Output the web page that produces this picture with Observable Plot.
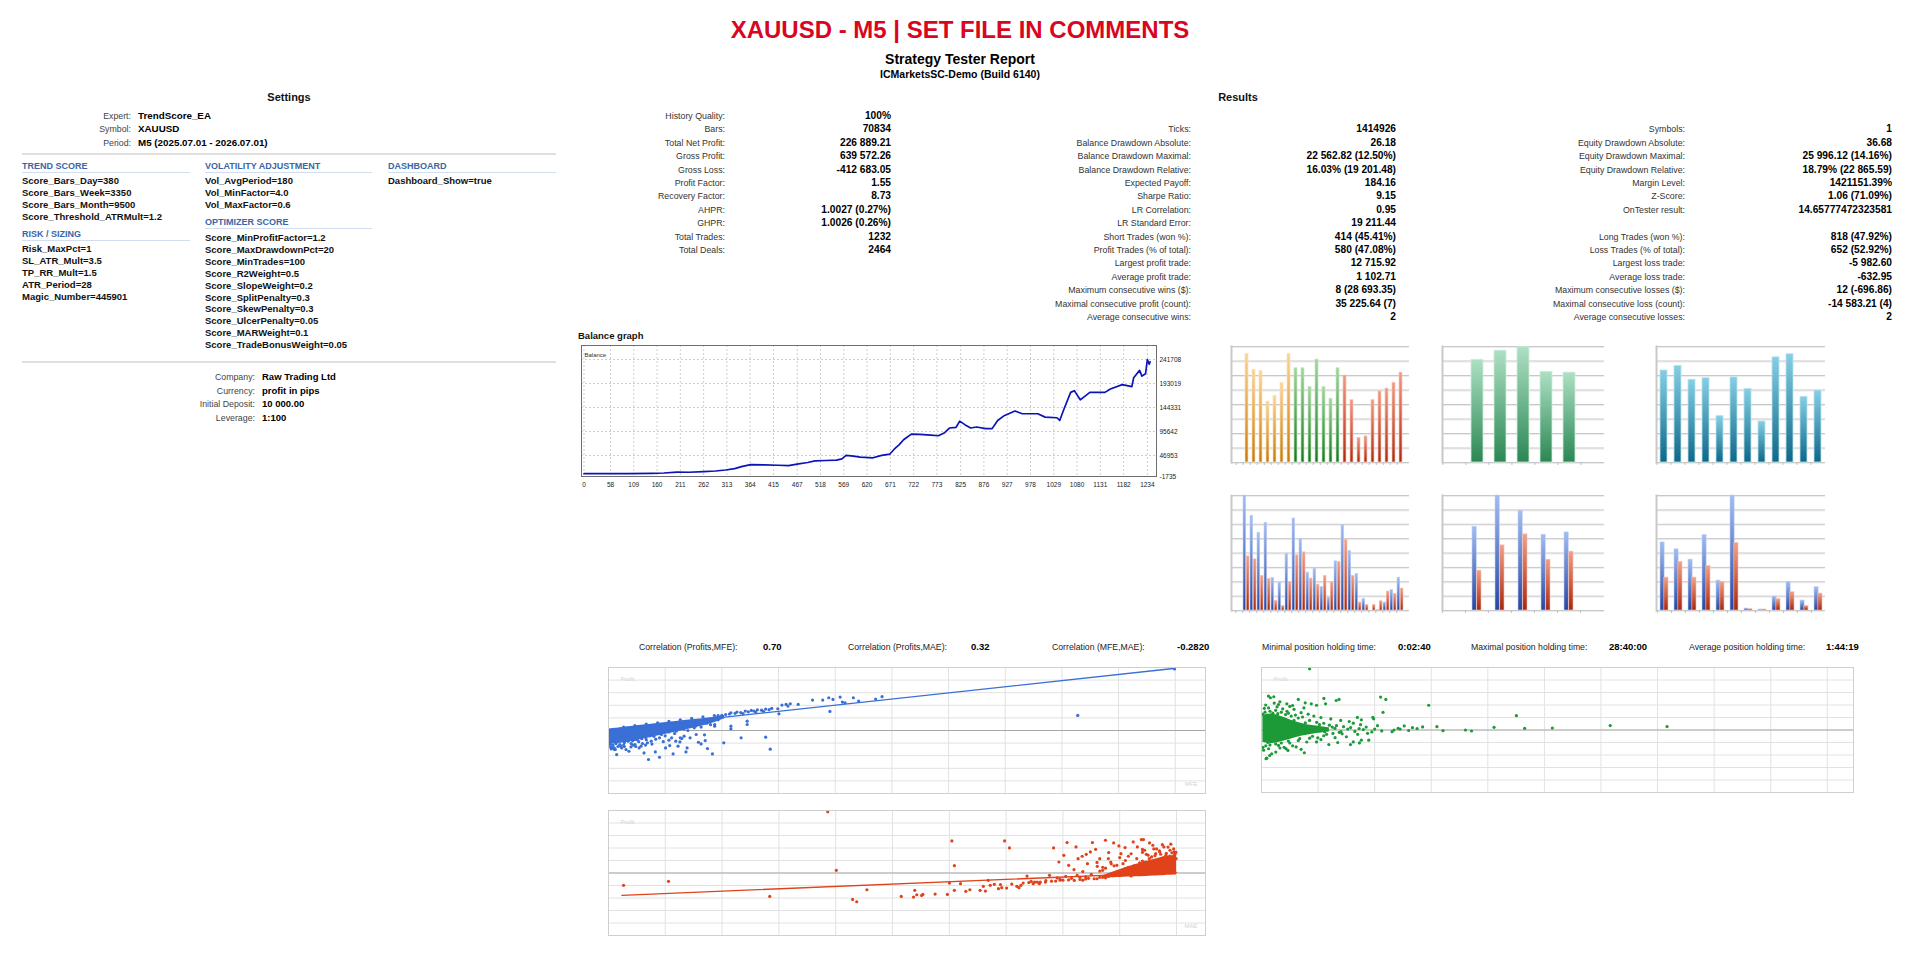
<!DOCTYPE html>
<html><head><meta charset="utf-8">
<script src="https://cdn.jsdelivr.net/npm/d3@7"></script>
<script src="https://cdn.jsdelivr.net/npm/@observablehq/plot@0.6"></script>
<style>
html,body{margin:0;padding:0;background:#fff;}
body{width:1920px;height:978px;position:relative;overflow:hidden;font-family:"Liberation Sans",Arial,Helvetica,sans-serif;}
.t{position:absolute;white-space:nowrap;line-height:1;}
.ln{position:absolute;}
.pl{position:absolute;}
.pl svg{display:block;overflow:visible;}
</style></head>
<body>
<svg width="0" height="0" style="position:absolute">
<defs>
<linearGradient id="gOrange" x1="0" y1="0" x2="0" y2="1"><stop offset="0" stop-color="#fcd59a"/><stop offset="1" stop-color="#c97806"/></linearGradient>
<linearGradient id="gGreen" x1="0" y1="0" x2="0" y2="1"><stop offset="0" stop-color="#a3d69c"/><stop offset="1" stop-color="#147a1a"/></linearGradient>
<linearGradient id="gRed" x1="0" y1="0" x2="0" y2="1"><stop offset="0" stop-color="#f19a86"/><stop offset="1" stop-color="#b0280e"/></linearGradient>
<linearGradient id="gMint" x1="0" y1="0" x2="0" y2="1"><stop offset="0" stop-color="#aee0c4"/><stop offset="1" stop-color="#2a8753"/></linearGradient>
<linearGradient id="gTeal" x1="0" y1="0" x2="0" y2="1"><stop offset="0" stop-color="#86cfe4"/><stop offset="1" stop-color="#0d6888"/></linearGradient>
<linearGradient id="gBlue" x1="0" y1="0" x2="0" y2="1"><stop offset="0" stop-color="#a2bdf2"/><stop offset="1" stop-color="#2646a3"/></linearGradient>
<linearGradient id="gRed2" x1="0" y1="0" x2="0" y2="1"><stop offset="0" stop-color="#f3a088"/><stop offset="1" stop-color="#a9270e"/></linearGradient>
</defs></svg>
<script>
// ---------------- DATA ----------------
const titleText = "XAUUSD - M5 | SET FILE IN COMMENTS";
const reportTitle = "Strategy Tester Report";
const reportServer = "ICMarketsSC-Demo (Build 6140)";

const settingsLabels = ["Expert:", "Symbol:", "Period:"];
const settingsValues = ["TrendScore_EA", "XAUUSD", "M5 (2025.07.01 - 2026.07.01)"];
const trendScoreItems = ["Score_Bars_Day=380", "Score_Bars_Week=3350", "Score_Bars_Month=9500", "Score_Threshold_ATRMult=1.2"];
const riskSizingItems = ["Risk_MaxPct=1", "SL_ATR_Mult=3.5", "TP_RR_Mult=1.5", "ATR_Period=28", "Magic_Number=445901"];
const volatilityItems = ["Vol_AvgPeriod=180", "Vol_MinFactor=4.0", "Vol_MaxFactor=0.6"];
const optimizerItems = ["Score_MinProfitFactor=1.2", "Score_MaxDrawdownPct=20", "Score_MinTrades=100", "Score_R2Weight=0.5", "Score_SlopeWeight=0.2", "Score_SplitPenalty=0.3", "Score_SkewPenalty=0.3", "Score_UlcerPenalty=0.05", "Score_MARWeight=0.1", "Score_TradeBonusWeight=0.05"];
const dashboardItems = ["Dashboard_Show=true"];
const accountLabels = ["Company:", "Currency:", "Initial Deposit:", "Leverage:"];
const accountValues = ["Raw Trading Ltd", "profit in pips", "10 000.00", "1:100"];

const res1Labels = ["History Quality:", "Bars:", "Total Net Profit:", "Gross Profit:", "Gross Loss:", "Profit Factor:", "Recovery Factor:", "AHPR:", "GHPR:", "Total Trades:", "Total Deals:"];
const res1Values = ["100%", "70834", "226 889.21", "639 572.26", "-412 683.05", "1.55", "8.73", "1.0027 (0.27%)", "1.0026 (0.26%)", "1232", "2464"];
const res2Labels = ["Ticks:", "Balance Drawdown Absolute:", "Balance Drawdown Maximal:", "Balance Drawdown Relative:", "Expected Payoff:", "Sharpe Ratio:", "LR Correlation:", "LR Standard Error:", "Short Trades (won %):", "Profit Trades (% of total):", "Largest profit trade:", "Average profit trade:", "Maximum consecutive wins ($):", "Maximal consecutive profit (count):", "Average consecutive wins:"];
const res2Values = ["1414926", "26.18", "22 562.82 (12.50%)", "16.03% (19 201.48)", "184.16", "9.15", "0.95", "19 211.44", "414 (45.41%)", "580 (47.08%)", "12 715.92", "1 102.71", "8 (28 693.35)", "35 225.64 (7)", "2"];
const res3Labels = ["Symbols:", "Equity Drawdown Absolute:", "Equity Drawdown Maximal:", "Equity Drawdown Relative:", "Margin Level:", "Z-Score:", "OnTester result:", "", "Long Trades (won %):", "Loss Trades (% of total):", "Largest loss trade:", "Average loss trade:", "Maximum consecutive losses ($):", "Maximal consecutive loss (count):", "Average consecutive losses:"];
const res3Values = ["1", "36.68", "25 996.12 (14.16%)", "18.79% (22 865.59)", "1421151.39%", "1.06 (71.09%)", "14.65777472323581", "", "818 (47.92%)", "652 (52.92%)", "-5 982.60", "-632.95", "12 (-696.86)", "-14 583.21 (4)", "2"];

const corrLabels = ["Correlation (Profits,MFE):", "Correlation (Profits,MAE):", "Correlation (MFE,MAE):"];
const corrValues = ["0.70", "0.32", "-0.2820"];
const holdLabels = ["Minimal position holding time:", "Maximal position holding time:", "Average position holding time:"];
const holdValues = ["0:02:40", "28:40:00", "1:44:19"];

// balance graph
const balanceXTicks = [0, 58, 109, 160, 211, 262, 313, 364, 415, 467, 518, 569, 620, 671, 722, 773, 825, 876, 927, 978, 1029, 1080, 1131, 1182, 1234];
const balanceYTicks = [241708, 193019, 144331, 95642, 46953, -1735];
const balanceTrade = [0,36,95,150,175,204,230,262,288,310,330,345,365,395,425,448,470,490,506,530,553,565,574,590,605,633,652,670,680,690,700,717,735,760,776,790,801,815,823,835,847,860,880,894,906,919,944,960,994,1010,1036,1042,1052,1066,1074,1087,1108,1141,1153,1179,1200,1204,1217,1222,1230,1234,1238,1240];
const balanceValue = [10000,10300,10000,10700,11400,13400,13000,14100,15500,17500,20300,24300,28500,27900,27200,26500,30000,32700,36100,36800,37500,40200,47100,45800,43700,42300,47100,49900,60200,68400,78800,90400,89700,88300,87000,93200,102800,104200,116600,109000,102800,104800,101500,101500,118000,126900,137200,131700,131700,124800,123500,118000,142700,175000,178500,159900,175000,175000,181900,190800,186700,204600,219700,208000,212800,241700,232000,236889];

// histograms
const hourSlots = [0,1,2,3,4,5,6,7,8,9,10,11,12,13,14,15,16,17,18,19,20,21,22,23];
const hourEntries = [0,75,64,63,42,46,55,75,65,65,52,71,52,44,65,60,43,17,18,43,49,51,55,62];
const sessionStarts = {europe: 8, america: 15};
const weekdaySlots = ["Sun", "Mon", "Tue", "Wed", "Thu", "Fri", "Sat"];
const weekdayEntries = [0, 248, 270, 278, 219, 217, 0];
const monthSlots = ["Jan", "Feb", "Mar", "Apr", "May", "Jun", "Jul", "Aug", "Sep", "Oct", "Nov", "Dec"];
const monthEntries = [119, 125, 107, 109, 60, 110, 95, 53, 136, 140, 85, 93];
const hourProfit = [0,68270,56230,46170,52090,19340,16570,33740,54650,42620,22490,24860,14010,7690,29200,50710,35320,21700,6910,0,390,4740,12230,19530];
const hourLoss = [0,32160,30380,20520,18740,5720,2760,16770,32750,34530,18940,15390,20520,16770,28810,41830,20520,4740,3350,3350,5520,11250,9870,13020];
const weekdayProfit = [0, 118420, 162590, 140970, 107140, 110430, 0];
const weekdayLoss = [0, 56390, 92100, 107610, 71900, 83170, 0];
const monthProfit = [90920, 81600, 67860, 100670, 39920, 153450, 2660, 1330, 18630, 38140, 13300, 31050];
const monthLoss = [43910, 64750, 43910, 59430, 38140, 90030, 1770, 1330, 15080, 24390, 6210, 22620];

// scatter charts
const profitTicks = [-13000, -10400, -7800, -5200, -2600, 0, 2600, 5200, 7800, 10400, 13000];
const mfeTicks = [0, 1500, 3000, 4500, 6000, 7500, 9000, 10500, 12000, 13500, 15000];
const holdTicks = [0, 4, 8, 12, 16, 20, 24, 28, 32, 36, 40];
const maeTicks = [-10000, -9000, -8000, -7000, -6000, -5000, -4000, -3000, -2000, -1000, 0];

const mfePoints = [[3240,3660],[3400,3800],[3620,4000],[3780,4140],[3940,4280],[4160,4420],[4320,4550],[4480,4490],[4590,5240],[4700,5380],[4750,5040],[4810,5520],[5020,5380],[5400,6280],[5670,6280],[5830,6760],[5940,6420],[6130,6900],[6190,5870],[6260,5730],[6480,6760],[6620,6070],[7070,6490],[7240,6970],[5860,3930],[4510,3450],[12420,3110],[14980,12716],
[3100,3300],[3000,3150],[2900,3050],[3200,3400],[3350,3550],[3500,3700],[3700,3850],[3850,4000],[4050,4200],[4250,4300],[3560,3500],[3900,3800],[4100,3950],
[76,-3800],[216,-4970],[464,-3930],[594,-3380],[702,-2900],[810,-3590],[940,-4620],[1058,-5983],[1240,-4420],[1350,-5520],[1510,-3590],[1620,-3110],[1710,-4830],[1780,-2210],[1890,-2350],[1940,-1660],[2050,-4420],[2080,-3590],[2160,-1520],[2270,550],[2380,-2420],[2450,-2760],[2540,-900],[2560,-2070],[2620,-3730],[2750,-4830],[2810,900],[2810,1240],[3050,-2550],[3240,350],[3510,-1520],[3670,1930],[3670,1240],[4160,-1380],[4280,-3860],[3240,900],[1670,-1520],[1130,-2210],[1350,-1520],[700,-1860],[320,-3240],[160,-3930],[540,-4280],[860,-3240],[1030,-2550],[1840,-3240],[2320,-830],[2000,-1170],
[100,-3500],[250,-3300],[400,-3000],[600,-2700],[800,-2300],[1000,-1900],[1200,-1200],[1400,-800],[1600,-300],[1800,-100],[2000,300],[2300,900],[2600,1500],[2900,2200],[50,-2900],[150,-3600],[350,-3600],[650,-3000],[900,-2700],[1250,-1800],[1500,-1100],[1750,-600],[2100,0],[2450,700],[2700,1200],
[30,-3000],[120,-3000],[200,-2700],[300,-2900],[420,-2500],[520,-2200],[640,-2100],[760,-1900],[880,-1700],[980,-1400],[1100,-1100],[1180,-900],[1300,-600],[1420,-300],[1550,0],[1680,300],[1850,500],[1950,800],[2150,1100],[2350,1400],[2500,1800],[2650,2000],[2850,2400],[3000,2700],[400,700],[700,1000],[1000,1300],[1300,1600],[1600,1900],[1900,2200],[2200,2500],[2500,2800],[2800,3100],[60,-3500],[180,-3900],[420,-3300],[720,-3300],[980,-3000],[1150,-2800],[1450,-2300],[1600,-2000],[1900,-1500]];
const mfeCluster = [[0,-2900,300],[593,-2300,850],[1132,-1400,1300],[1671,-500,1750],[2210,400,2200],[2749,1500,2700],[3072,2450,3100]];
const mfeTrend = [[54,207],[14950,12790]];

const holdPoints = [[3.40,12716],[0.49,7060],[0.87,6920],[0.63,6710],[1.30,5860],[1.79,5440],[2.60,6350],[3.09,5650],[3.52,5440],[3.89,5150],[4.41,6570],[4.53,5440],[5.28,6140],[5.48,6350],[8.42,6850],[8.79,6350],[8.59,3670],[11.82,5150],[12.4,700],[12.83,-140],[14.42,0],[14.85,-210],[16.44,560],[18.02,2970],[18.6,350],[20.56,420],[24.65,920],[28.67,710],[11.39,640],[10.67,490],[10.09,850],[9.66,350],[9.37,0],[9.23,-350],[7.93,2330],[7.87,2610],[7.06,2120],[6.78,2610],[6.49,1410],[6.2,1770],[6.49,-2470],[6.29,-3040],[6.92,-2680],[7.06,-2120],[7.58,-2120],[4.76,-3040],[5.39,-2610],[3.89,-2470],[3.98,-1620],[3.03,-4730],[2.8,-4020],[1.87,-4240],[1.73,-3880],[1.01,-4590],[0.72,-4940],[0.37,-5860],[0.32,-5983],[0.58,-5300],[1.3,-3740],[2.45,-3530],[4.47,-350],[5.05,-710],[5.62,-350],[5.19,350],
[0.3,5200],[0.5,4600],[1.1,4800],[1.5,4400],[2.0,4900],[2.3,4300],[0.2,4500],[1.8,3900],[2.8,3600],[3.3,3300],[3.7,2900],[4.2,2600],[4.9,2300],[5.6,2000],[2.2,5100],[1.2,5300],[0.9,5600],[3.0,4600],[0.15,-4200],[0.5,-3900],[1.6,-3600],[2.2,-3300],[3.2,-2500],[4.2,-2000],[5.2,-1600],[6.0,-1400],[6.8,-900],[7.5,-700],
[0.1,3300],[0.25,3700],[0.4,3100],[0.6,3900],[0.8,3500],[1.0,4100],[1.15,3400],[1.4,3700],[1.7,3200],[1.9,3500],[2.1,2900],[2.4,3100],[2.6,2500],[2.9,2700],[3.4,2000],[3.9,1600],[4.4,1400],[4.8,1000],[5.3,900],[5.8,700],[6.3,500],[6.9,300],[7.4,600],[8.0,200],[8.5,-200],[7.8,-400],[7.2,100],[6.6,-300],[6.1,200],[5.5,-500],[5.0,600],[4.6,-900],[4.1,1100],[3.6,-1300],[3.1,1500],[2.7,-1800],[2.3,2000],[1.9,-2300],[1.4,-2700],[1.0,-2900],[0.6,-3100],[0.3,-3300],[0.1,-3600],[0.45,-2600],[1.2,-3200],[2.0,-2700],[2.6,-2200],[3.4,-1700],[4.4,-1200],[5.7,-800],[9.8,200],[10.4,-100],[11.0,300],[8.2,900],[7.0,1100]];
const holdCluster = [[0.1,-2600,3000],[0.8,-2800,3300],[1.6,-2300,2600],[2.4,-1600,1700],[3.2,-1100,1100],[4.0,-700,800],[4.8,-400,450]];

const maePoints = [[-6140,12716],[-9735,-2570],[-8944,-1740],[-7161,-4870],[-5989,560],[-5702,-5490],[-5630,-5983],[-5450,-3480],[-4846,-4870],[-4630,-5000],[-4609,-3610],[-4573,-4520],[-4487,-4660],[-4465,-4450],[-4250,-4380],[-4034,-4450],[-3998,-2090],[-3955,6670],[-3911,1530],[-3911,-3610],[-3803,-2220],[-3710,-3820],[-3638,-3480],[-3458,-3610],[-3401,-2780],[-3365,-3750],[-3315,-1530],[-3279,-2570],[-3207,-2360],[-3135,-3270],[-3077,-3060],[-3027,6670],[-2991,-3130],[-2941,5210],[-2811,-2780],[-2775,-3060],[-2739,-2570],[-2632,-630],[-2560,-1740],[-2524,-2220],[-2452,-1880],[-2416,-2220],[-2308,-1880],[-2236,-490],[-2164,5210],[-2128,-1670],[-2071,2290],[-1984,3680],[-1927,6320],[-1898,1600],[-1805,700],[-1769,5420],[-1733,2990],[-1661,3480],[-1589,3890],[-1568,1950],[-1517,4380],[-1481,6320],[-1424,4930],[-1395,1390],[-1352,2990],[-1301,560],[-1251,6810],[-1194,4240],[-1158,2290],[-1107,6250],[-1050,1600],[-1014,5630],[-978,4030],[-942,1950],[-906,5280],[-848,3480],[-798,560],[-762,6460],[-690,5420],[-618,6950],[-582,6950],[-561,4730],[-532,3890],[-475,6250],[-417,5770],[-367,4030],[-295,4380],[-223,5420],[-187,3680],[-115,4730],[-43,4380],[-7,2990],[-79,1950],[-151,2640],[-259,2990],[-345,1600],[-439,3340],[-547,2290],
[-2000,-1500],[-1900,-1450],[-1800,-1550],[-1700,-1350],[-1650,-1500],[-1600,-1250],[-2200,-1700],[-2400,-1900],[-2600,-2000],[-2050,-1300],[-1550,-1100],[-1450,-1200],[-1350,-900],[-1250,-1000],[-1700,-900],[-2100,-1000],
[-900,2600],[-700,3000],[-500,3700],[-300,4600],[-150,5400],[-50,5000],[-1100,1500],[-1300,1200],[-600,4300],[-400,5000],
[-1400,-1200],[-1300,-900],[-1200,-700],[-1100,-400],[-1050,0],[-950,300],[-900,900],[-850,1200],[-800,-600],[-750,1500],[-650,2100],[-600,2500],[-550,1000],[-480,3000],[-430,2000],[-380,3600],[-330,2600],[-280,3900],[-230,3200],[-180,4100],[-120,3500],[-80,4200],[-30,3900],[-10,4300],[-60,3300],[-1150,1900],[-1250,1000],[-1350,400],[-1500,-300],[-1600,-800],[-1750,-500],[-1850,-1100],[-1950,-700],[-2050,-1500],[-2300,-1600],[-2500,-1900],[-2700,-2100],[-2900,-2300],[-3100,-2400],[-1650,300],[-1400,2200],[-1200,3000],[-1000,3200],[-800,4000],[-600,4900],[-350,5000],[-250,5900],[-100,6000]];
const maeCluster = [[-1300,-1100,-600],[-1000,-950,700],[-700,-800,1800],[-400,-620,2800],[-200,-500,3400],[0,-420,3700]];
const maeTrend = [[-9764,-4643],[0,139]];

// ---------------- HELPERS ----------------
const FONT = '"Liberation Sans", Arial, Helvetica, sans-serif';
function put(text, x, y, {size = 9, weight = 400, color = "#000", anchor = "start"} = {}) {
  const d = document.createElement("div");
  d.className = "t";
  d.textContent = text;
  const tx = anchor === "end" ? "-100%" : anchor === "middle" ? "-50%" : "0";
  d.style.cssText = `left:${x}px;top:${y}px;font-size:${size}px;font-weight:${weight};color:${color};transform:translate(${tx},-50%);`;
  document.body.appendChild(d);
}
function line(x1, x2, y, color, th) {
  const d = document.createElement("div");
  d.className = "ln";
  d.style.cssText = `left:${x1}px;top:${y - th / 2}px;width:${x2 - x1}px;height:${th}px;background:${color};`;
  document.body.appendChild(d);
}
function mount(node, left, top) {
  const d = document.createElement("div");
  d.className = "pl";
  d.style.left = left + "px";
  d.style.top = top + "px";
  d.appendChild(node);
  document.body.appendChild(d);
}

// ---------------- HEADER ----------------
put(titleText, 960, 30, {size: 24, weight: 700, color: "#d8061e", anchor: "middle"});
put(reportTitle, 960, 59, {size: 14, weight: 700, anchor: "middle"});
put(reportServer, 960, 74, {size: 10.5, weight: 700, anchor: "middle"});

// ---------------- SETTINGS ----------------
put("Settings", 289, 97, {size: 11, weight: 700, color: "#111", anchor: "middle"});
settingsLabels.forEach((l, i) => {
  put(l, 131, 116 + 13.4 * i, {size: 8.8, color: "#444", anchor: "end"});
  put(settingsValues[i], 138, 116 + 13.4 * i, {size: 9.8, weight: 700});
});
line(22, 556, 154, "#e0e0e0", 2);
const HCOL = "#3a66a8", UCOL = "#d2ddef";
function section(title, x, y, w, items, y0) {
  put(title, x, y, {size: 9, weight: 700, color: HCOL});
  line(x, x + w, y + 6.5, UCOL, 1.5);
  items.forEach((s, i) => put(s, x, y0 + 11.9 * i, {size: 9.5, weight: 700, color: "#111"}));
}
section("TREND SCORE", 22, 166, 168, trendScoreItems, 181);
section("RISK / SIZING", 22, 234, 168, riskSizingItems, 249);
section("VOLATILITY ADJUSTMENT", 205, 166, 167, volatilityItems, 181);
section("OPTIMIZER SCORE", 205, 222, 167, optimizerItems, 238);
section("DASHBOARD", 388, 166, 168, dashboardItems, 181);
line(22, 556, 362, "#e0e0e0", 2);
accountLabels.forEach((l, i) => {
  put(l, 255, 377 + 13.5 * i, {size: 8.8, color: "#444", anchor: "end"});
  put(accountValues[i], 262, 377 + 13.5 * i, {size: 9.5, weight: 700});
});

// ---------------- RESULTS ----------------
put("Results", 1238, 97, {size: 11, weight: 700, color: "#111", anchor: "middle"});
const RY = 116, RS = 13.4;
res1Labels.forEach((l, i) => {
  put(l, 725, RY + RS * i, {size: 8.8, color: "#333", anchor: "end"});
  put(res1Values[i], 891, RY + RS * i, {size: 10.2, weight: 700, anchor: "end"});
});
res2Labels.forEach((l, i) => {
  put(l, 1191, RY + RS * (i + 1), {size: 8.8, color: "#333", anchor: "end"});
  put(res2Values[i], 1396, RY + RS * (i + 1), {size: 10.2, weight: 700, anchor: "end"});
});
res3Labels.forEach((l, i) => {
  if (!l) return;
  put(l, 1685, RY + RS * (i + 1), {size: 8.8, color: "#333", anchor: "end"});
  put(res3Values[i], 1892, RY + RS * (i + 1), {size: 10.2, weight: 700, anchor: "end"});
});

// ---------------- BALANCE GRAPH ----------------
put("Balance graph", 578, 336, {size: 9.5, weight: 700, color: "#111"});
const balanceData = balanceTrade.map((t, i) => ({trade: t, balance: balanceValue[i]}));
const balXDom = [-5.5, 1254], balYDom = [4350, 270110];
mount(Plot.plot({
  width: 616, height: 149,
  marginLeft: 3, marginRight: 38, marginTop: 2, marginBottom: 16,
  style: {background: "transparent", fontFamily: FONT},
  x: {domain: balXDom, axis: null},
  y: {domain: balYDom, clamp: true, axis: null},
  marks: [
    Plot.ruleX(balanceXTicks, {stroke: "#cfcfcf", strokeDasharray: "2,2"}),
    Plot.ruleY(balanceYTicks, {stroke: "#cfcfcf", strokeDasharray: "2,2"}),
    Plot.line(balanceData, {x: "trade", y: "balance", stroke: "#0c14b8", strokeWidth: 1.7}),
    Plot.frame({stroke: "#6e6e6e"}),
    Plot.text(balanceYTicks, {x: balXDom[1], y: d => d, text: d => String(d), textAnchor: "start", dx: 3, fontSize: 6.5, fill: "#222"}),
    Plot.text(balanceXTicks, {x: d => d, y: balYDom[0], text: d => String(d), dy: 8, fontSize: 6.5, fill: "#222"}),
    Plot.text(["Balance"], {frameAnchor: "top-left", dx: 3, dy: 7, fontSize: 6, fill: "#333", textAnchor: "start"})
  ]
}), 578, 343);

// ---------------- HISTOGRAMS ----------------
function histogram({left, top, w, h, slots, yMax, pad, layers}) {
  const mL = 2, mR = 1, mT = 2, mB = 5;
  const step = w / slots.length, bw = step * (1 - pad);
  const grid = d3.range(9).map(i => yMax * i / 8);
  const chart = Plot.plot({
    width: w + mL + mR, height: h + mT + mB,
    marginLeft: mL, marginRight: mR, marginTop: mT, marginBottom: mB,
    style: {background: "transparent", fontFamily: FONT},
    x: {type: "band", domain: slots, paddingInner: pad, paddingOuter: pad / 2, axis: null},
    y: {domain: [0, yMax], axis: null},
    marks: [
      Plot.ruleY(grid, {stroke: "#ececec", dy: 1}),
      Plot.ruleY(grid, {stroke: "#c8c8c8"}),
      Plot.axisX({tickSize: 3, tickFormat: () => "", label: null, stroke: "#c0c0c0", dx: -step / 2}),
      ...layers(bw),
      Plot.frame({anchor: "left", stroke: "#c8c8c8", strokeWidth: 2})
    ]
  });
  mount(chart, left - mL, top - mT);
}
const hourData = hourSlots.map((s, i) => ({slot: s, value: hourEntries[i], profit: hourProfit[i], loss: hourLoss[i],
  session: s < sessionStarts.europe ? "asia" : s < sessionStarts.america ? "europe" : "america"}));
const weekdayData = weekdaySlots.map((s, i) => ({slot: s, value: weekdayEntries[i], profit: weekdayProfit[i], loss: weekdayLoss[i]}));
const monthData = monthSlots.map((s, i) => ({slot: s, value: monthEntries[i], profit: monthProfit[i], loss: monthLoss[i]}));

histogram({left: 1231, top: 346, w: 178, h: 116, slots: hourSlots, yMax: 80, pad: 0.6, layers: () => [
  Plot.barY(hourData.filter(d => d.value > 0 && d.session === "asia"), {x: "slot", y: "value", fill: "url(#gOrange)", stroke: "#fde3b8", strokeWidth: 0.7}),
  Plot.barY(hourData.filter(d => d.value > 0 && d.session === "europe"), {x: "slot", y: "value", fill: "url(#gGreen)", stroke: "#c6e8c2", strokeWidth: 0.7}),
  Plot.barY(hourData.filter(d => d.value > 0 && d.session === "america"), {x: "slot", y: "value", fill: "url(#gRed)", stroke: "#f8c6b8", strokeWidth: 0.7})
]});
histogram({left: 1442, top: 346, w: 162, h: 116, slots: weekdaySlots, yMax: 280, pad: 0.48, layers: () => [
  Plot.barY(weekdayData.filter(d => d.value > 0), {x: "slot", y: "value", fill: "url(#gMint)", stroke: "#cdeedb", strokeWidth: 0.8})
]});
histogram({left: 1656, top: 346, w: 169, h: 116, slots: monthSlots, yMax: 150, pad: 0.5, layers: () => [
  Plot.barY(monthData, {x: "slot", y: "value", fill: "url(#gTeal)", stroke: "#b8e4f0", strokeWidth: 0.8})
]});
function pairLayers(data) {
  return bw => [
    Plot.barY(data.filter(d => d.profit > 0), {x: "slot", y: "profit", fill: "url(#gBlue)", stroke: "#bfd0f4", strokeWidth: 0.6, insetRight: bw / 2}),
    Plot.barY(data.filter(d => d.loss > 0), {x: "slot", y: "loss", fill: "url(#gRed2)", stroke: "#f6c0b0", strokeWidth: 0.6, insetLeft: bw / 2})
  ];
}
histogram({left: 1231, top: 495, w: 178, h: 115, slots: hourSlots, yMax: 68270, pad: 0.12, layers: pairLayers(hourData)});
histogram({left: 1442, top: 495, w: 162, h: 115, slots: weekdaySlots, yMax: 162590, pad: 0.59, layers: pairLayers(weekdayData)});
histogram({left: 1656, top: 495, w: 169, h: 115, slots: monthSlots, yMax: 153450, pad: 0.45, layers: pairLayers(monthData)});

// ---------------- CORRELATION / HOLDING TEXT ----------------
[639, 848, 1052].forEach((x, i) => put(corrLabels[i], x, 647, {size: 8.7, color: "#222"}));
[763, 971, 1177].forEach((x, i) => put(corrValues[i], x, 647, {size: 9.5, weight: 700}));
[1262, 1471, 1689].forEach((x, i) => put(holdLabels[i], x, 647, {size: 8.7, color: "#222"}));
[1398, 1609, 1826].forEach((x, i) => put(holdValues[i], x, 647, {size: 9.5, weight: 700}));

// ---------------- SCATTERS ----------------
function scatter({left, top, w, h, xDomain, xTicks, color, points, cluster, trend, xName}) {
  const pts = points.map(([x, y]) => ({x, y}));
  const marks = [
    Plot.ruleX(xTicks, {stroke: "#e2e2e2"}),
    Plot.ruleY(profitTicks, {stroke: "#e2e2e2"}),
    Plot.ruleY([0], {stroke: "#a8a8a8"}),
    cluster ? Plot.areaY(cluster.map(([x, lo, hi]) => ({x, lo, hi})), {x: "x", y1: "lo", y2: "hi", fill: color, curve: "catmull-rom"}) : null,
    Plot.dot(pts, {x: "x", y: "y", r: 1.6, fill: color}),
    trend ? Plot.line(trend.map(([x, y]) => ({x, y})), {x: "x", y: "y", stroke: color, strokeWidth: 1.3}) : null,
    Plot.frame({stroke: "#cfcfcf"}),
    Plot.text(["Profit"], {frameAnchor: "top-left", dx: 12, dy: 9, fill: "#d4d4d4", fontSize: 6, textAnchor: "start"}),
    xName ? Plot.text([xName], {frameAnchor: "bottom-right", dx: -8, dy: -8, fill: "#d4d4d4", fontSize: 6, textAnchor: "end"}) : null
  ].filter(Boolean);
  mount(Plot.plot({
    width: w + 2, height: h + 2, margin: 1,
    style: {background: "transparent", fontFamily: FONT},
    x: {domain: xDomain, axis: null},
    y: {domain: [-13000, 13000], axis: null},
    marks
  }), left - 1, top - 1);
}
scatter({left: 608, top: 667, w: 597, h: 126, xDomain: [0, 15800], xTicks: mfeTicks, color: "#3a6fd6", points: mfePoints, cluster: mfeCluster, trend: mfeTrend, xName: "MFE"});
scatter({left: 1261, top: 667, w: 592, h: 125, xDomain: [0, 41.85], xTicks: holdTicks, color: "#1c9a38", points: holdPoints, cluster: holdCluster, trend: null, xName: null});
scatter({left: 608, top: 810, w: 597, h: 125, xDomain: [-10000, 510], xTicks: maeTicks, color: "#e0421a", points: maePoints, cluster: maeCluster, trend: maeTrend, xName: "MAE"});
</script>
</body></html>
